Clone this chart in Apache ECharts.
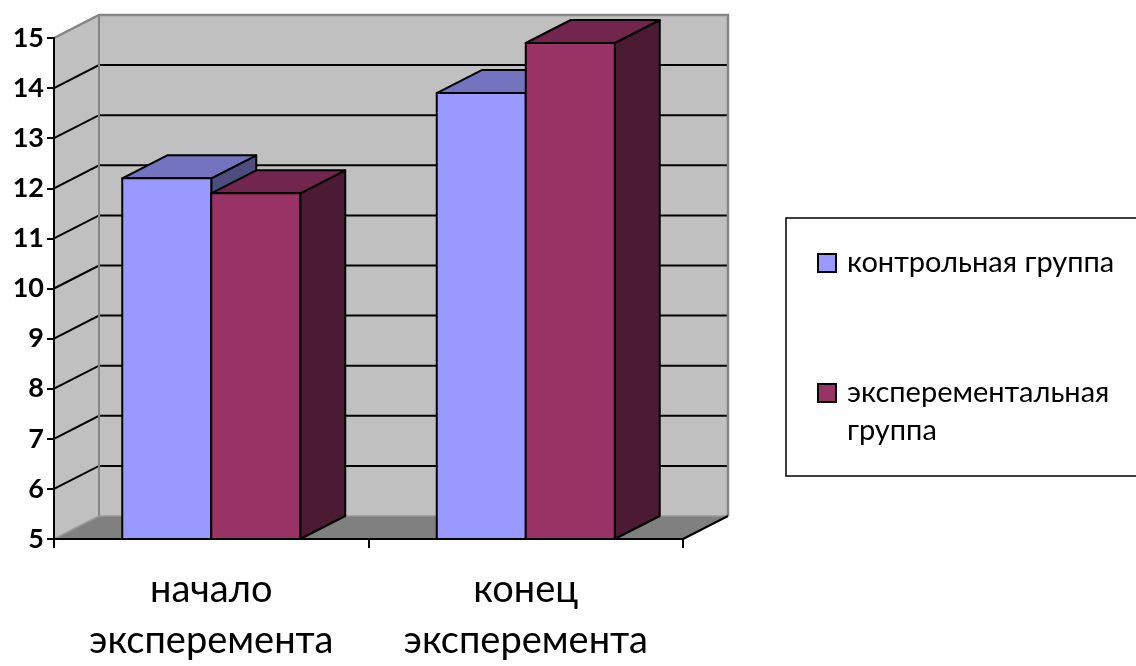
<!DOCTYPE html>
<html>
<head>
<meta charset="utf-8">
<script src="https://cdn.jsdelivr.net/npm/echarts@6/dist/echarts.min.js"></script>
<style>
  html, body { margin: 0; padding: 0; background: #ffffff; overflow: hidden; }
  #chart { width: 1136px; height: 666px; }
</style>
</head>
<body>
<div id="chart"></div>
<script>
// Categories along the horizontal axis
const categories = ['начало\nэксперемента', 'конец\nэксперемента'];
// Series names
const seriesNames = ['контрольная группа', 'эксперементальная группа'];
// Values per series, one per category
const controlValues = [12.2, 13.9];
const experimentalValues = [11.9, 14.9];
// Value axis range
const yMin = 5;
const yMax = 15;
const yStep = 1;

// Pseudo-3D depth of the plot box and the columns (pixels)
const DEPTH_X = 45;
const DEPTH_Y = -23;
// Column width as a share of one category band
const BAR_SHARE = 0.283;

const palette = [
  { front: '#9999FF', top: '#7373BF', side: '#4D4D80' },
  { front: '#993366', top: '#73264D', side: '#4D1A33' }
];

const FONT = 'Lato, "Open Sans", "Noto Sans", sans-serif';

// Walls, floor and the gridlines on the walls
function renderFrame(params, api) {
  const cs = params.coordSys;
  const L = cs.x, R = cs.x + cs.width, T = cs.y, B = cs.y + cs.height;
  const dx = DEPTH_X, dy = DEPTH_Y;
  const children = [
    { type: 'polygon', shape: { points: [[L, T], [L + dx, T + dy], [L + dx, B + dy], [L, B]] },
      style: { fill: '#C0C0C0', stroke: null } },
    { type: 'rect', shape: { x: L + dx, y: T + dy, width: R - L, height: B - T },
      style: { fill: '#C0C0C0', stroke: null } },
    { type: 'polygon', shape: { points: [[L, B], [R, B], [R + dx, B + dy], [L + dx, B + dy]] },
      style: { fill: '#808080', stroke: null } }
  ];
  for (let v = yMin + yStep; v < yMax; v += yStep) {
    const y = api.coord([0, v])[1];
    children.push({ type: 'polyline',
      shape: { points: [[L, y], [L + dx, y + dy], [R + dx, y + dy]] },
      style: { stroke: '#000000', lineWidth: 2, fill: null } });
  }
  // wall edges
  children.push({ type: 'polyline',
    shape: { points: [[L, T], [L + dx, T + dy], [R + dx, T + dy], [R + dx, B + dy]] },
    style: { stroke: '#858585', lineWidth: 2.5, fill: null } });
  children.push({ type: 'line',
    shape: { x1: L + dx, y1: T + dy, x2: L + dx, y2: B + dy },
    style: { stroke: '#858585', lineWidth: 2 } });
  children.push({ type: 'line',
    shape: { x1: L + dx, y1: B + dy, x2: R + dx, y2: B + dy },
    style: { stroke: '#9a9a9a', lineWidth: 1.5 } });
  children.push({ type: 'line',
    shape: { x1: L, y1: B, x2: L + dx, y2: B + dy },
    style: { stroke: '#9a9a9a', lineWidth: 1.5 } });
  children.push({ type: 'line',
    shape: { x1: R, y1: B, x2: R + dx, y2: B + dy },
    style: { stroke: '#000000', lineWidth: 2 } });
  return { type: 'group', children: children };
}

// One column drawn as front, top and side faces
function makeColumnRenderer(slot, colors) {
  return function (params, api) {
    const idx = api.value(0);
    const top = api.coord([idx, api.value(1)]);
    const base = api.coord([idx, yMin]);
    const band = api.size([1, 0])[0];
    const w = band * BAR_SHARE;
    const x0 = slot === 0 ? top[0] - w : top[0];
    const x1 = x0 + w;
    const yt = top[1], yb = base[1];
    const dx = DEPTH_X, dy = DEPTH_Y;
    const edge = { stroke: '#000000', lineWidth: 2, lineJoin: 'round' };
    return {
      type: 'group',
      children: [
        { type: 'polygon', shape: { points: [[x1, yb], [x1 + dx, yb + dy], [x1 + dx, yt + dy], [x1, yt]] },
          style: Object.assign({ fill: colors.side }, edge) },
        { type: 'polygon', shape: { points: [[x0, yt], [x1, yt], [x1 + dx, yt + dy], [x0 + dx, yt + dy]] },
          style: Object.assign({ fill: colors.top }, edge) },
        { type: 'polygon', shape: { points: [[x0, yb], [x1, yb], [x1, yt], [x0, yt]] },
          style: Object.assign({ fill: colors.front }, edge) }
      ]
    };
  };
}

const chart = echarts.init(document.getElementById('chart'), null, { renderer: 'canvas' });

chart.setOption({
  animation: false,
  backgroundColor: '#ffffff',
  grid: { left: 54, top: 38, width: 629, height: 508, containLabel: false },
  xAxis: {
    type: 'category',
    data: categories,
    z: 10,
    axisLine: { show: true, lineStyle: { color: '#000000', width: 2 } },
    axisTick: { show: true, alignWithLabel: false, length: 9, lineStyle: { color: '#000000', width: 2 } },
    axisLabel: { interval: 0, margin: 25, color: '#000000', fontFamily: FONT, fontSize: 38, lineHeight: 51 },
    splitLine: { show: false }
  },
  yAxis: {
    type: 'value',
    min: yMin, max: yMax, interval: yStep,
    z: 10,
    axisLine: { show: true, lineStyle: { color: '#000000', width: 2 } },
    axisTick: { show: true, length: 7, lineStyle: { color: '#000000', width: 2 } },
    axisLabel: { margin: 10, color: '#000000', fontFamily: FONT, fontSize: 27, fontWeight: 'bold' },
    splitLine: { show: false }
  },
  legend: {
    orient: 'vertical',
    left: 786, top: 218,
    padding: [26, 80, 26, 31],
    itemGap: 54,
    itemWidth: 18, itemHeight: 18,
    backgroundColor: '#ffffff',
    borderColor: '#000000', borderWidth: 1.5, borderRadius: 0,
    textStyle: { fontFamily: FONT, fontSize: 29, lineHeight: 38, color: '#000000', padding: [0, 0, 0, 6] },
    // the wrapped entry keeps its first line level with the swatch
    formatter: function (name) { return name === seriesNames[1] ? '\nэксперементальная\nгруппа' : name; },
    data: [
      { name: seriesNames[0], icon: 'rect',
        itemStyle: { color: palette[0].front, borderColor: '#000000', borderWidth: 2 } },
      { name: seriesNames[1], icon: 'rect',
        itemStyle: { color: palette[1].front, borderColor: '#000000', borderWidth: 2 } }
    ]
  },
  series: [
    {
      type: 'custom', name: 'frame', z: 1, silent: true,
      renderItem: renderFrame,
      data: [[0, yMin]]
    },
    {
      type: 'custom', name: seriesNames[0], z: 3,
      itemStyle: { color: palette[0].front, borderColor: '#000000' },
      renderItem: makeColumnRenderer(0, palette[0]),
      data: controlValues.map(function (v, i) { return [i, v]; })
    },
    {
      type: 'custom', name: seriesNames[1], z: 4,
      itemStyle: { color: palette[1].front, borderColor: '#000000' },
      renderItem: makeColumnRenderer(1, palette[1]),
      data: experimentalValues.map(function (v, i) { return [i, v]; })
    }
  ]
});
</script>
</body>
</html>
